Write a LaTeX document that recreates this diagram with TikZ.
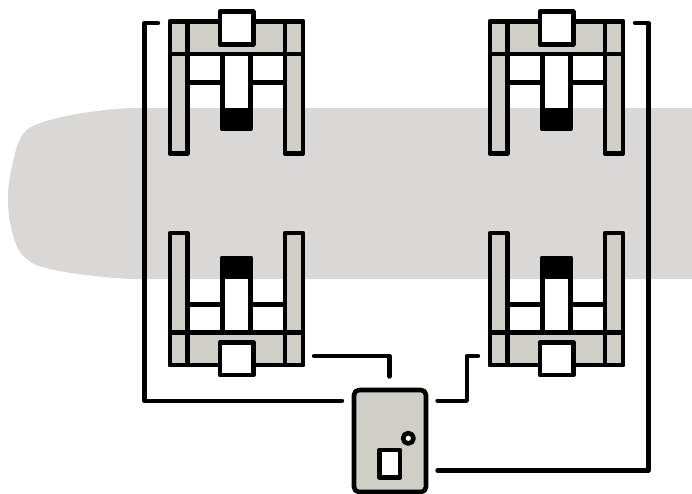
\documentclass[tikz,border=0pt]{standalone}
\usepackage{tikz}
\usetikzlibrary{positioning,calc}
\definecolor{bodygray}{HTML}{D9D8D6}
\definecolor{unitgray}{HTML}{CFCFC7}
\tikzset{
  part/.style={draw=black,line width=4.6pt,line join=round,fill=unitgray},
  whitepart/.style={part,fill=white},
  blackpart/.style={part,fill=black},
  wire/.style={draw=black,line width=4.4pt,line cap=round,line join=round},
  ctrlbox/.style={part,rounded corners=5pt,minimum width=72pt,minimum height=102pt,inner sep=0pt,outer sep=0pt},
  brakeunit/.pic={
    \draw[whitepart] (52.3,32.3) rectangle (80.3,107);
    \draw[blackpart] (52.3,88.5) rectangle (80.3,107);
    \draw[black,line width=4.4pt] (17.5,60.6) -- (52.3,60.6);
    \draw[black,line width=4.4pt] (80.3,60.6) -- (115,60.6);
    \fill[unitgray] (0,0) rectangle (133,32.3);
    \draw[part] (0,0) rectangle (17.5,132);
    \draw[part] (115,0) rectangle (133,132);
    \draw[part,fill=none] (0,0) rectangle (133,32.3);
    \draw[whitepart] (50,-10) rectangle (83.3,22.6);
  }
}

\begin{document}
\begin{tikzpicture}[x=1pt,y=-1pt]
\useasboundingbox (0,0) rectangle (692,493);

% aircraft body
\fill[bodygray] (692,108) -- (130,108)
  .. controls (95,110) and (55,116) .. (33,126)
  .. controls (22,131) and (18,140) .. (13,162)
  .. controls (10,175) and (8,185) .. (8,197)
  .. controls (8,215) and (10,225) .. (13,235)
  .. controls (17,250) and (22,258) .. (36,265)
  .. controls (55,272) and (95,277) .. (130,279)
  -- (692,279) -- cycle;

\pic at (170,21.7) {brakeunit};
\pic at (490,21.7) {brakeunit};
\pic[yscale=-1] at (170,365) {brakeunit};
\pic[yscale=-1] at (490,365) {brakeunit};

\node[ctrlbox] (ctrl) at (390,441) {};
\node[whitepart,inner sep=0pt,outer sep=0pt,minimum width=20.7pt,minimum height=27.3pt] (ctrlwin) at (389.7,463.7) {};
\node[whitepart,circle,inner sep=0pt,outer sep=0pt,minimum size=10.5pt] (ctrllamp) at (408.3,438.3) {};

\coordinate (frontleft) at (158,23);
\coordinate (frontright) at (635,23);
\coordinate (rearleft) at (314,356);
\coordinate (rearright) at (478,356);
\coordinate (ctrlwest) at (342,400.7);
\coordinate (ctrltop) at (389.5,376.5);
\coordinate (ctrleast) at (437.5,400.7);
\coordinate (ctrlsouth) at (437.5,470.5);

\draw[wire] (frontleft) -- (144.5,23) |- (ctrlwest);
\draw[wire] (rearleft) -| (ctrltop);
\draw[wire] (ctrleast) -| (466.7,378) |- (rearright);
\draw[wire] (ctrlsouth) -| (648.3,200) |- (frontright);

\end{tikzpicture}
\end{document}
